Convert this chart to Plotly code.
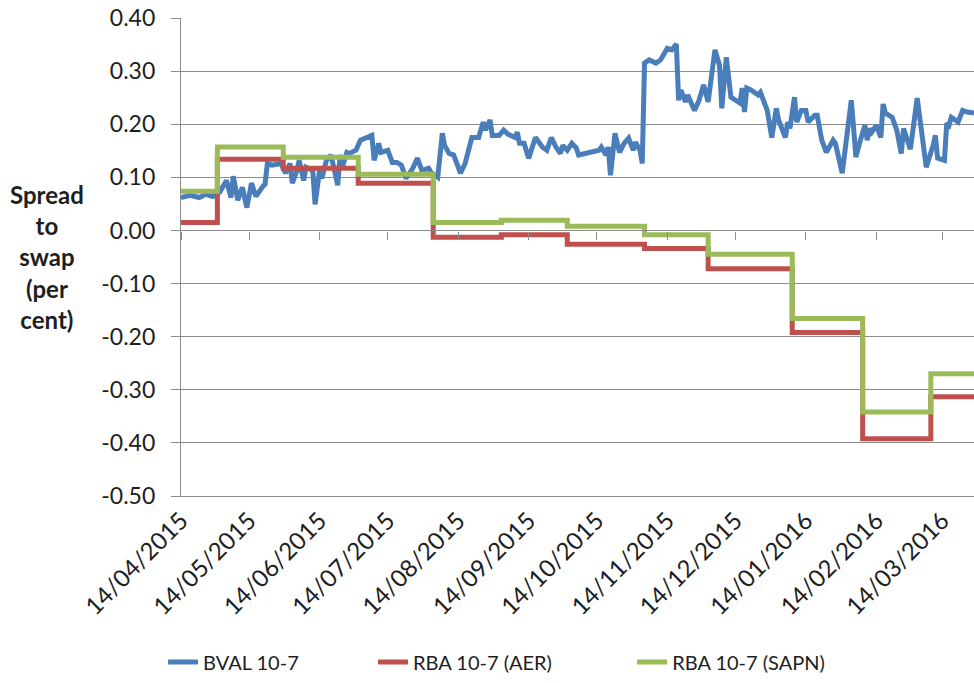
import pandas as pd
import plotly.graph_objects as go

# ---------------- data ----------------
start_date = "14/04/2015"

# BVAL 10-7 spread: days since 14/04/2015 and value (per cent)
bval_day = [
    0, 4, 8, 11, 14, 17, 20, 22, 23, 25,
    27, 29, 31, 33, 36, 37, 38, 40, 44, 46,
    48, 49, 51, 52, 54, 55, 58, 59, 61, 62,
    64, 66, 69, 70, 71, 73, 74, 77, 79, 81,
    84, 85, 87, 88, 91, 93, 95, 97, 99, 102,
    104, 106, 109, 110, 113, 115, 116, 118, 120, 123,
    125, 128, 131, 133, 134, 136, 137, 140, 142, 144,
    147, 148, 149, 151, 153, 156, 159, 161, 163, 165,
    167, 168, 170, 172, 174, 175, 178, 180, 182, 184,
    185, 187, 188, 189, 191, 193, 195, 197, 199, 200,
    202, 203, 204, 206, 209, 211, 212, 214, 216, 217,
    218, 219, 220, 222, 223, 226, 228, 230, 232, 235,
    237, 238, 240, 242, 244, 246, 247, 248, 249, 251,
    254, 255, 258, 260, 262, 263, 266, 267, 268, 270,
    271, 273, 275, 276, 279, 280, 282, 284, 287, 288,
    291, 293, 295, 296, 297, 299, 301, 302, 303, 304,
    306, 308, 309, 310, 313, 315, 317, 318, 321, 324,
    326, 328, 331, 332, 333, 336, 337, 338, 339, 342,
    344, 346, 349,
]
bval_value = [
    0.062, 0.066, 0.062, 0.068, 0.064, 0.072, 0.094, 0.062, 0.102, 0.057,
    0.081, 0.043, 0.089, 0.064, 0.083, 0.087, 0.126, 0.123, 0.126, 0.108,
    0.126, 0.089, 0.113, 0.132, 0.094, 0.119, 0.113, 0.049, 0.113, 0.098,
    0.132, 0.142, 0.085, 0.142, 0.119, 0.147, 0.145, 0.151, 0.170, 0.174,
    0.179, 0.132, 0.164, 0.147, 0.151, 0.128, 0.128, 0.123, 0.098, 0.117,
    0.136, 0.113, 0.117, 0.109, 0.100, 0.183, 0.160, 0.145, 0.142, 0.108,
    0.126, 0.175, 0.175, 0.204, 0.189, 0.208, 0.179, 0.179, 0.189, 0.181,
    0.175, 0.185, 0.164, 0.164, 0.136, 0.175, 0.157, 0.151, 0.175, 0.157,
    0.145, 0.160, 0.151, 0.164, 0.155, 0.142, 0.145, 0.145, 0.149, 0.151,
    0.157, 0.142, 0.157, 0.104, 0.183, 0.147, 0.164, 0.174, 0.151, 0.166,
    0.151, 0.126, 0.315, 0.321, 0.315, 0.321, 0.328, 0.343, 0.340, 0.347,
    0.351, 0.245, 0.264, 0.242, 0.255, 0.226, 0.245, 0.274, 0.242, 0.340,
    0.311, 0.230, 0.326, 0.251, 0.245, 0.240, 0.268, 0.223, 0.268, 0.264,
    0.255, 0.260, 0.226, 0.175, 0.230, 0.208, 0.175, 0.204, 0.192, 0.251,
    0.204, 0.226, 0.226, 0.204, 0.217, 0.217, 0.170, 0.147, 0.170, 0.164,
    0.108, 0.183, 0.245, 0.194, 0.138, 0.170, 0.198, 0.170, 0.192, 0.185,
    0.198, 0.175, 0.238, 0.221, 0.213, 0.189, 0.145, 0.192, 0.153, 0.249,
    0.183, 0.119, 0.160, 0.179, 0.136, 0.132, 0.202, 0.198, 0.213, 0.204,
    0.226, 0.223, 0.221,
]

# RBA 10-7 step series: days since 14/04/2015 at which the level changes
rba_day = [0, 16, 45, 78, 111, 141, 170, 204, 232, 269, 300, 330, 349]
aer_value = [0.015, 0.134, 0.117, 0.089, -0.013, -0.008, -0.026, -0.034,
             -0.072, -0.192, -0.392, -0.313, -0.313]
sapn_value = [0.074, 0.157, 0.138, 0.106, 0.015, 0.019, 0.008, -0.008,
              -0.045, -0.166, -0.342, -0.270, -0.270]

x_tick_labels = ["14/04/2015", "14/05/2015", "14/06/2015", "14/07/2015",
                 "14/08/2015", "14/09/2015", "14/10/2015", "14/11/2015",
                 "14/12/2015", "14/01/2016", "14/02/2016", "14/03/2016"]
y_tick_labels = ["-0.50", "-0.40", "-0.30", "-0.20", "-0.10", "0.00",
                 "0.10", "0.20", "0.30", "0.40"]

series_names = ["BVAL 10-7", "RBA 10-7 (AER)", "RBA 10-7 (SAPN)"]
y_title = "Spread<br>to<br>swap<br>(per<br>cent)"

# ---------------- build ----------------
base = pd.to_datetime(start_date, format="%d/%m/%Y")
bval_dates = base + pd.to_timedelta(bval_day, unit="D")
rba_dates = base + pd.to_timedelta(rba_day, unit="D")
x_tick_vals = pd.to_datetime(x_tick_labels, format="%d/%m/%Y")
y_tick_vals = [float(s) for s in y_tick_labels]
x_range = [bval_dates[0], bval_dates[-1]]
y_range = [y_tick_vals[0], y_tick_vals[-1]]

FONT = "Lato, Calibri, Carlito, sans-serif"
GRID = "#8c8c8c"
TEXT = "#1e1e1e"

fig = go.Figure()
fig.add_trace(go.Scatter(x=bval_dates, y=bval_value, mode="lines",
                         name=series_names[0], legend="legend",
                         line=dict(color="#4a7ebb", width=5)))
fig.add_trace(go.Scatter(x=rba_dates, y=aer_value, mode="lines",
                         name=series_names[1], legend="legend2",
                         line=dict(color="#c0504d", width=5, shape="hv")))
fig.add_trace(go.Scatter(x=rba_dates, y=sapn_value, mode="lines",
                         name=series_names[2], legend="legend3",
                         line=dict(color="#9bbb59", width=5, shape="hv")))
# invisible helper trace so the zero-crossing axis is drawn
fig.add_trace(go.Scatter(x=[bval_dates[0]], y=[None], xaxis="x2",
                         showlegend=False, hoverinfo="skip"))

legend_common = dict(orientation="h", xref="container", yref="container",
                     xanchor="left", yanchor="middle", y=0.0307,
                     font=dict(family=FONT, size=20, color=TEXT),
                     bgcolor="rgba(0,0,0,0)")

fig.update_layout(
    width=974, height=683,
    margin=dict(l=181, r=0, t=18, b=187, autoexpand=False),
    paper_bgcolor="white", plot_bgcolor="white",
    font=dict(family=FONT, color=TEXT),
    legend=dict(x=0.1674, **legend_common),
    legend2=dict(x=0.383, **legend_common),
    legend3=dict(x=0.649, **legend_common),
    xaxis=dict(type="date", range=x_range, tickmode="array",
               tickvals=x_tick_vals, ticktext=x_tick_labels,
               tickangle=-45, showgrid=False, zeroline=False,
               automargin=False, ticklabeloverflow="allow",
               showline=True, linecolor=GRID, linewidth=1.3, ticks="",
               tickfont=dict(family=FONT, size=24, color=TEXT)),
    xaxis2=dict(type="date", overlaying="x", anchor="free",
                position=5 / 9, range=x_range, tickmode="array",
                tickvals=x_tick_vals, showticklabels=False,
                ticks="outside", ticklen=8, tickwidth=1.3, tickcolor=GRID,
                showline=True, linecolor=GRID, linewidth=1.3,
                showgrid=False, zeroline=False, automargin=False),
    yaxis=dict(range=y_range, tickmode="array", tickvals=y_tick_vals,
               ticktext=y_tick_labels, showgrid=True, gridcolor=GRID,
               gridwidth=1.3, zeroline=False, showline=True,
               automargin=False, ticklabeloverflow="allow",
               linecolor=GRID, linewidth=1.3, ticks="outside", ticklen=9,
               tickwidth=1.3, tickcolor=GRID, ticklabelstandoff=11,
               tickfont=dict(family=FONT, size=23, color=TEXT)),
    annotations=[dict(text="<b>" + y_title + "</b>", xref="paper",
                      yref="paper", x=-0.169, y=0.5, xanchor="center",
                      yanchor="middle", showarrow=False, align="center",
                      font=dict(family=FONT, size=24, color=TEXT))],
)

# remove the default 8px page margin so the figure fills the window exactly
fig.write_html("out.html",
               config={"displayModeBar": False},
               post_script="document.body.style.margin='0';")
